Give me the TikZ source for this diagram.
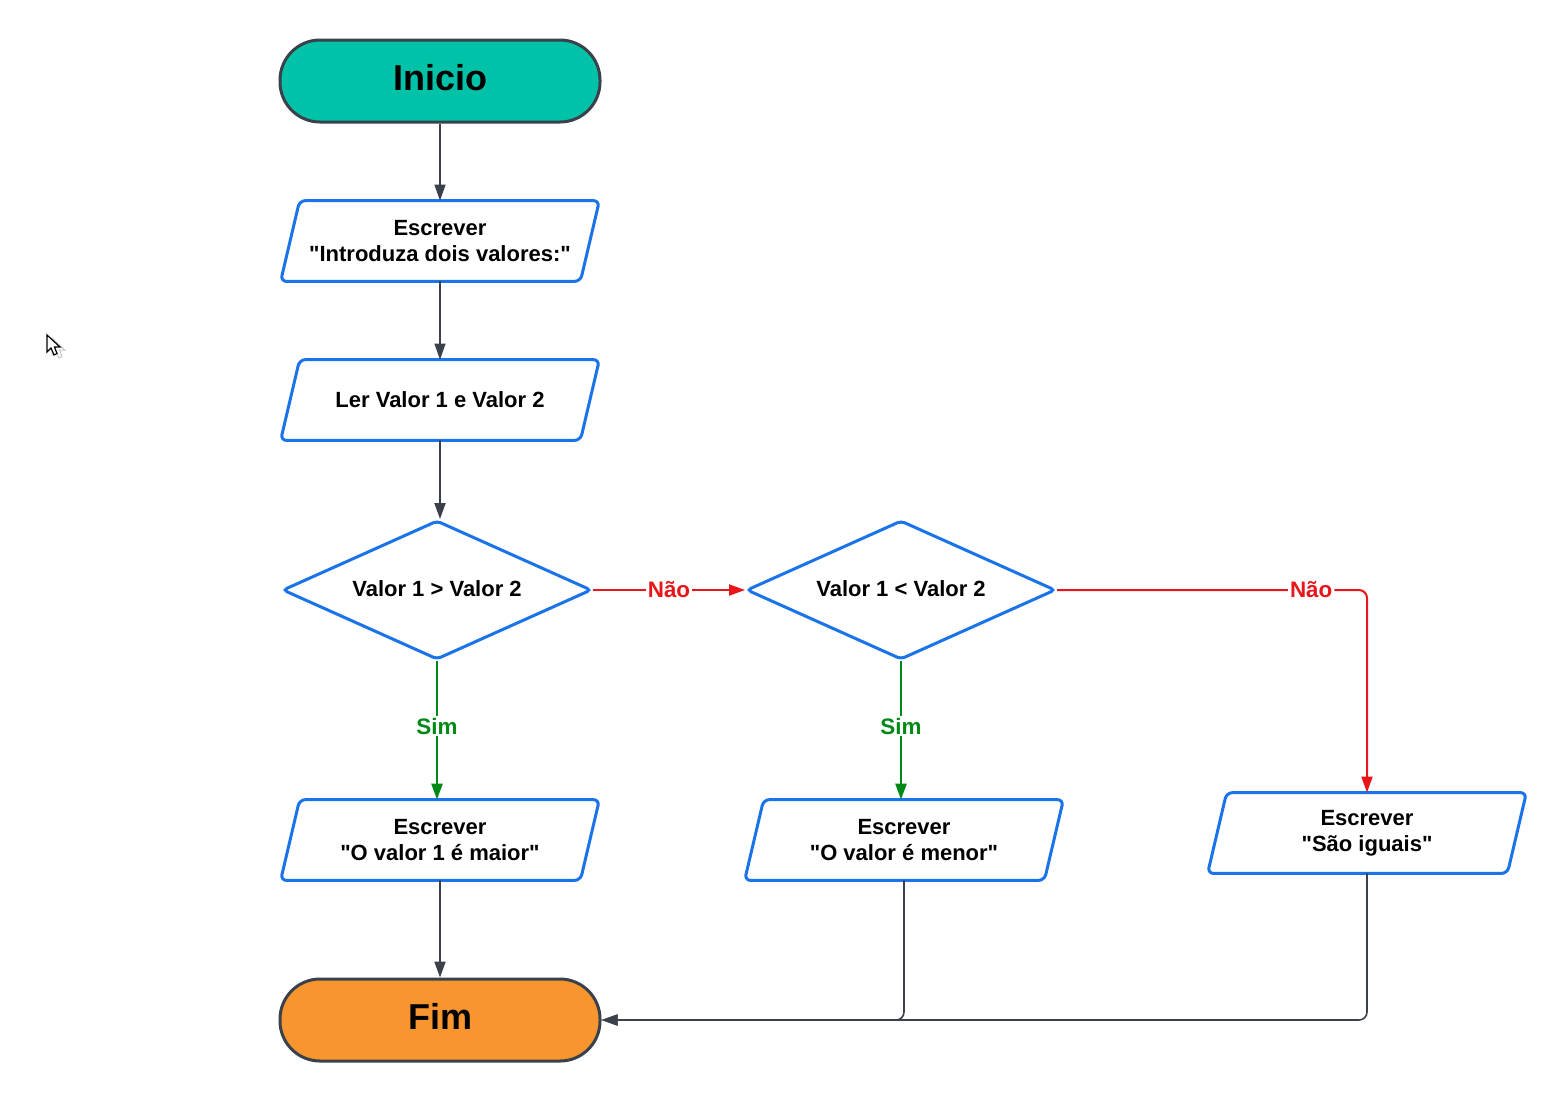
\documentclass[tikz,border=0pt]{standalone}
\usepackage{fontspec}
\setmainfont{Liberation Sans}
\usetikzlibrary{shapes.geometric,arrows.meta}
\definecolor{teal1}{HTML}{00C2A8}
\definecolor{orange1}{HTML}{F9952F}
\definecolor{blue1}{HTML}{1A73E8}
\definecolor{dark1}{HTML}{3A414A}
\definecolor{red1}{HTML}{E8161A}
\definecolor{green1}{HTML}{008A15}
\newcommand{\qq}{\XeTeXglyph\XeTeXcharglyph"22\relax}
\begin{document}
\begin{tikzpicture}[x=0.5pt,y=-0.5pt,
 terminal/.style={draw=dark1,line width=1.5pt,rectangle,rounded corners=20pt,minimum width=160pt,minimum height=41pt,font=\fontsize{18}{20}\selectfont\bfseries},
 io/.style={rectangle,minimum width=159pt,minimum height=40pt,inner sep=0pt,align=center,font=\fontsize{11}{13}\selectfont\bfseries,
   append after command={\pgfextra{\let\ionode\tikzlastnode
     \draw[draw=blue1,line width=1.5pt,rounded corners=3pt,line join=round]
       (\ionode.north) -- (\ionode.north east) -- ([xshift=-9.5pt]\ionode.south east)
       -- (\ionode.south west) -- ([xshift=9.5pt]\ionode.north west) -- cycle;}}},
 decision/.style={draw=blue1,fill=white,line width=1.5pt,diamond,minimum width=154.5pt,minimum height=69.5pt,inner sep=0pt,rounded corners=2pt},
 dtext/.style={font=\fontsize{11}{13}\selectfont\bfseries,yshift=0.8pt},
 tip/.style={-{Triangle[length=8pt,width=5.5pt]}},
 conn/.style={tip,draw=dark1,line width=0.6pt},
 nao/.style={tip,draw=red1,line width=1pt},
 sim/.style={tip,draw=green1,line width=1.2pt},
 lab/.style={fill=white,inner sep=1pt,font=\fontsize{11.2}{13}\selectfont\bfseries}
]
\useasboundingbox (0,0) rectangle (1568,1100);

% cursor
\draw[gray!45,fill=white,line width=0.5pt] (52,338) -- (52,355) -- (56,351) -- (59,358) -- (62,356.5) -- (59.5,350) -- (65,350) -- cycle;
\draw[black,fill=white,line width=0.6pt] (47,335) -- (47,352) -- (51,348) -- (54,355) -- (57,353.5) -- (54.5,347) -- (60,347) -- cycle;

\node[terminal,fill=teal1] (ini) at (440,81) {\raisebox{3.5pt}{Inicio}};
\node[io] (p1) at (440,241) {Escrever\\\qq Introduza dois valores:\qq};
\node[io] (p2) at (440,400) {Ler Valor 1 e Valor 2};
\node[decision,label={[dtext]center:Valor 1 > Valor 2}] (d1) at (437,590) {};
\node[decision,label={[dtext]center:Valor 1 < Valor 2}] (d2) at (901,590) {};
\node[io] (p3) at (440,840) {Escrever\\\qq O valor 1 é maior\qq};
\node[io] (p4) at (904,840) {Escrever\\\qq O valor é menor\qq};
\node[io] (p5) at (1367,833) {Escrever\\\qq São iguais\qq};
\node[terminal,fill=orange1] (fim) at (440,1020) {\raisebox{3.5pt}{Fim}};

\draw[conn] (ini.south) -- (p1.north);
\draw[conn] (p1.south) -- (p2.north);
\draw[conn,line width=1pt] (p2.south) -- (p2.south |- d1.north);
\draw[nao] (d1.east) -- node[lab,text=red1]{Não} (d2.west);
\draw[nao,rounded corners=4pt] (d2.east) -- node[lab,text=red1,pos=0.82]{Não} (d2.east -| p5.north) -- (p5.north);
\draw[sim] (d1.south) -- node[lab,text=green1,pos=0.47]{Sim} (d1.south |- p3.north);
\draw[sim] (d2.south) -- node[lab,text=green1,pos=0.47]{Sim} (d2.south |- p4.north);
\draw[conn,line width=1pt] (p3.south) -- (fim.north);
\draw[conn,line width=0.8pt,rounded corners=4pt] (p4.south) |- (fim.east);
\draw[conn,line width=0.8pt,rounded corners=4pt] (p5.south) |- (fim.east);
\end{tikzpicture}
\end{document}
